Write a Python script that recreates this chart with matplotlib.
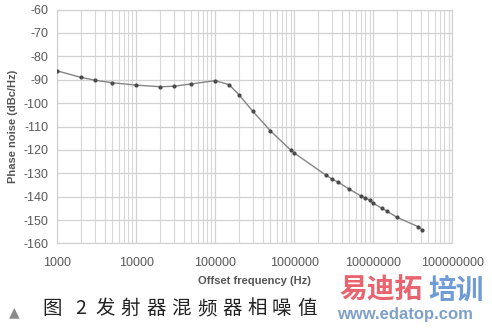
import matplotlib
matplotlib.use("Agg")
import matplotlib.pyplot as plt
from matplotlib.ticker import LogLocator, FixedLocator, NullFormatter

# offset frequency (Hz) and phase noise (dBc/Hz)
freq = [1000, 2000, 3000, 5000, 10000, 20000, 30000, 50000, 100000, 150000,
        200000, 300000, 500000, 900000, 1000000, 2500000, 3000000, 3600000,
        5000000, 7000000, 8000000, 9000000, 10000000, 13000000, 15000000,
        20000000, 37000000, 42000000]
noise = [-86.2, -89.0, -90.2, -91.3, -92.3, -93.0, -92.8, -91.8, -90.4, -92.1,
         -96.4, -103.5, -111.8, -120.0, -121.3, -130.7, -132.4, -133.8,
         -136.8, -139.7, -140.6, -141.4, -142.8, -145.0, -146.2,
         -148.8, -152.8, -154.2]
yticks = list(range(-160, -59, 10))
xticks = [1e3, 1e4, 1e5, 1e6, 1e7, 1e8]
xlabels = ["1000", "10000", "100000", "1000000", "10000000", "100000000"]
caption = ["图", "2", "发", "射", "器", "混", "频", "器", "相", "噪", "值"]

plt.rcParams['font.family'] = ['Liberation Sans', 'DejaVu Sans']
plt.rcParams['axes.unicode_minus'] = False
fig = plt.figure(figsize=(4.92, 3.29), dpi=100)
ax = fig.add_axes([0.116, 0.26, 0.803, 0.711])

ax.plot(freq, noise, color='#858585', lw=1.0, marker='o', ms=2.0,
        mfc='#4a4a4a', mec='#4a4a4a', zorder=3)

ax.set_xscale('log')
ax.set_xlim(1e3, 1e8)
ax.set_ylim(-160, -60)
ax.xaxis.set_major_locator(FixedLocator(xticks))
ax.set_xticklabels(xlabels)
ax.xaxis.set_minor_locator(LogLocator(base=10, subs=range(2, 10), numticks=20))
ax.xaxis.set_minor_formatter(NullFormatter())
ax.set_yticks(yticks)

ax.grid(which='major', color='#d2d2d2', lw=0.9)
ax.grid(which='minor', axis='x', color='#d8d8d8', lw=0.8)
for s in ax.spines.values():
    s.set_color('#d2d2d2')
    s.set_linewidth(0.9)
ax.tick_params(which='both', length=0, colors='#5a5a5a', labelsize=9)
ax.tick_params(axis='y', pad=6)
ax.tick_params(axis='x', pad=10)

ax.set_ylabel('Phase noise (dBc/Hz)', fontsize=8, fontweight='bold',
              color='#555555', labelpad=4)
ax.set_xlabel('Offset frequency (Hz)', fontsize=8, fontweight='bold',
              color='#555555', labelpad=5)

# caption, characters spaced like the print
fig.text(0.018, 0.052, '▲', fontsize=10, color='#8a8a8a', family='DejaVu Sans',
         va='center')
cx = [42, 75, 95, 120, 146, 171, 197, 222, 247, 272, 297]
for ch, x in zip(caption, cx):
    fig.text(x / 492, 0.062, ch, fontsize=14, color='#222222',
             family=['Noto Sans CJK SC', 'DejaVu Sans'], ha='left', va='center')

# watermark
fig.text(339 / 492, 0.117, '易迪拓', fontsize=20, color='#e8646e', fontweight='bold',
         family=['Noto Sans CJK SC'], va='center')
fig.text(428 / 492, 0.117, '培训', fontsize=20, color='#6f9bd6', fontweight='bold',
         family=['Noto Sans CJK SC'], va='center')
fig.text(337 / 492, 0.03, 'www.edatop.com', fontsize=12, color='#7fa0c8',
         fontweight='bold')

fig.savefig('out.png', dpi=100)
